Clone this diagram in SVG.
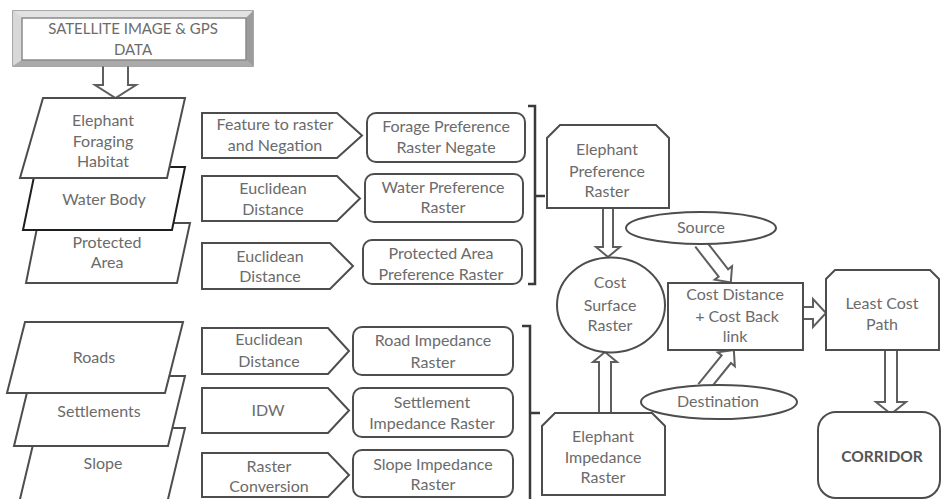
<svg xmlns="http://www.w3.org/2000/svg" width="942" height="499" viewBox="0 0 942 499">
<style>
.t{font-family:Lato,"Open Sans","Liberation Sans",sans-serif;font-size:16px;fill:#6b6b6b;text-anchor:middle}
.h{font-size:15px}
.b{font-weight:bold;font-size:15.5px;fill:#555}
.s{fill:#fff;stroke:#4d4d4d;stroke-width:2}
.dk{stroke:#1e1e1e}
.a{fill:#fff;stroke:#5e5e5e;stroke-width:2}
.br{fill:none;stroke:#3a3a3a;stroke-width:2.5}
</style>
<rect width="942" height="499" fill="#fff"/>
<g id="connectors">
<path class="a" d="M103,66 V85 H95 L115.5,98 L136,85 H128 V66"/>
<path class="a" d="M603,208 V247 H596 L608,257 L620,247 H613 V208"/>
<path class="a" d="M599,413 V362 H593 L605,352 L617,362 H611 V413"/>
<path class="a" d="M0,-6 H38 V-11 L50,0 L38,11 V6 H0" transform="translate(700,243) rotate(52)"/>
<path class="a" d="M0,-6 H37 V-11 L49,0 L37,11 V6 H0" transform="translate(703,388) rotate(-51)"/>
<path class="a" d="M803,307 H813 V299 L826,313 L813,327 V319 H803"/>
<path class="a" d="M885,350 V402 H876 L891,414 L906,402 H897 V350"/>
<path class="br" d="M528,106 H535 V284 H528 M535,196 H545"/>
<path class="br" d="M522,326 H530 V505 M530,413 H540"/>
</g>
<g id="satellite">
<rect x="13" y="11" width="240" height="55" fill="#c4c4c4" stroke="#8a8a8a" stroke-width="1.5"/>
<path d="M13,11 H253 L246,18 H22 Z" fill="#e2e2e2"/>
<path d="M13,11 L22,18 V60 L13,66 Z" fill="#d8d8d8"/>
<path d="M253,11 V66 L246,60 V18 Z" fill="#9c9c9c"/>
<path d="M13,66 H253 L246,60 H22 Z" fill="#aaaaaa"/>
<rect x="22" y="18" width="224" height="42" fill="#fff" stroke="#8a8a8a" stroke-width="1.5"/>
<text class="t h" x="133" y="34">SATELLITE IMAGE &amp; GPS</text>
<text class="t h" x="133" y="55">DATA</text>
</g>
<g id="protected">
<path class="s" d="M38,223 H190 L177,283 H26 Z"/>
<text class="t" x="107" y="248">Protected</text>
<text class="t" x="107" y="268">Area</text>
</g>
<g id="water">
<path class="s dk" d="M36,167 H185 L172,230 H23 Z"/>
<text class="t" x="104" y="205">Water Body</text>
</g>
<g id="foraging">
<path class="s" d="M43,98 H185 L167,178 H20 Z"/>
<text class="t" x="103" y="126">Elephant</text>
<text class="t" x="103" y="147">Foraging</text>
<text class="t" x="103" y="167">Habitat</text>
</g>
<g id="slope">
<path class="s" d="M37,428 H185 L163,520 H15 Z"/>
<text class="t" x="103" y="469">Slope</text>
</g>
<g id="settlements">
<path class="s" d="M31,376 H185 L168,446 H14 Z"/>
<text class="t" x="99" y="417">Settlements</text>
</g>
<g id="roads">
<path class="s" d="M25,322 H183 L165,393 H7 Z"/>
<text class="t" x="94" y="363">Roads</text>
</g>
<g id="feature">
<path class="s" d="M202,113 H337 L362,135.5 L337,158 H202 Z"/>
<text class="t" x="275" y="130">Feature to raster</text>
<text class="t" x="275" y="151">and Negation</text>
</g>
<g id="forage-pref">
<rect class="s" x="367" y="113" width="158" height="49" rx="9"/>
<text class="t" x="446" y="132">Forage Preference</text>
<text class="t" x="446" y="153">Raster Negate</text>
</g>
<g id="euclid1">
<path class="s" d="M202,176 H337 L360,198.5 L337,221 H202 Z"/>
<text class="t" x="273" y="194">Euclidean</text>
<text class="t" x="273" y="215">Distance</text>
</g>
<g id="water-pref">
<rect class="s" x="365" y="174" width="158" height="48" rx="9"/>
<text class="t" x="443" y="193">Water Preference</text>
<text class="t" x="443" y="213">Raster</text>
</g>
<g id="euclid2">
<path class="s" d="M202,243 H330 L353,266 L330,289 H202 Z"/>
<text class="t" x="270" y="262">Euclidean</text>
<text class="t" x="270" y="282">Distance</text>
</g>
<g id="protected-pref">
<rect class="s" x="363" y="240" width="159" height="44" rx="9"/>
<text class="t" x="441" y="259">Protected Area</text>
<text class="t" x="441" y="280">Preference  Raster</text>
</g>
<g id="euclid3">
<path class="s" d="M202,328 H328 L349,351 L328,374 H202 Z"/>
<text class="t" x="269" y="345">Euclidean</text>
<text class="t" x="269" y="367">Distance</text>
</g>
<g id="road-imp">
<rect class="s" x="353" y="327" width="160" height="48" rx="9"/>
<text class="t" x="433" y="346">Road Impedance</text>
<text class="t" x="433" y="368">Raster</text>
</g>
<g id="idw">
<path class="s" d="M202,388 H328 L349,410.5 L328,433 H202 Z"/>
<text class="t" x="268" y="416">IDW</text>
</g>
<g id="settlement-imp">
<rect class="s" x="353" y="388" width="160" height="49" rx="9"/>
<text class="t" x="432" y="408">Settlement</text>
<text class="t" x="432" y="429">Impedance Raster</text>
</g>
<g id="raster-conv">
<path class="s" d="M202,453 H328 L349,475 L328,497 H202 Z"/>
<text class="t" x="269" y="472">Raster</text>
<text class="t" x="269" y="492">Conversion</text>
</g>
<g id="slope-imp">
<rect class="s" x="353" y="450" width="160" height="47" rx="9"/>
<text class="t" x="433" y="470">Slope Impedance</text>
<text class="t" x="433" y="490">Raster</text>
</g>
<g id="elephant-pref">
<path class="s" d="M547,208 V138 L560,125 H656 L669,138 V208 Z"/>
<text class="t" x="607" y="155">Elephant</text>
<text class="t" x="607" y="177">Preference</text>
<text class="t" x="607" y="197">Raster</text>
</g>
<g id="cost-surface">
<ellipse class="s" cx="611" cy="305" rx="54" ry="47.5"/>
<text class="t" x="610" y="288">Cost</text>
<text class="t" x="610" y="311">Surface</text>
<text class="t" x="610" y="331">Raster</text>
</g>
<g id="elephant-imp">
<path class="s" d="M542,495 V426 L555,413 H652 L665,426 V495 Z"/>
<text class="t" x="603" y="442">Elephant</text>
<text class="t" x="603" y="463">Impedance</text>
<text class="t" x="603" y="483">Raster</text>
</g>
<g id="source">
<ellipse class="s" cx="701" cy="228" rx="75" ry="16"/>
<text class="t" x="701" y="233">Source</text>
</g>
<g id="destination">
<ellipse class="s" cx="719" cy="402" rx="78" ry="17"/>
<text class="t" x="718" y="407">Destination</text>
</g>
<g id="cost-distance">
<rect class="s" x="668" y="283" width="135" height="67"/>
<text class="t" x="735" y="300">Cost Distance</text>
<text class="t" x="737" y="322">+ Cost Back</text>
<text class="t" x="735" y="342">link</text>
</g>
<g id="least-cost">
<path class="s" d="M826,350 V279 L835,270 H930 L939,279 V350 Z"/>
<text class="t" x="882" y="309">Least Cost</text>
<text class="t" x="882" y="330">Path</text>
</g>
<g id="corridor">
<rect class="s" x="818" y="412" width="122" height="86" rx="18"/>
<text class="t b" x="882" y="462">CORRIDOR</text>
</g>
</svg>
